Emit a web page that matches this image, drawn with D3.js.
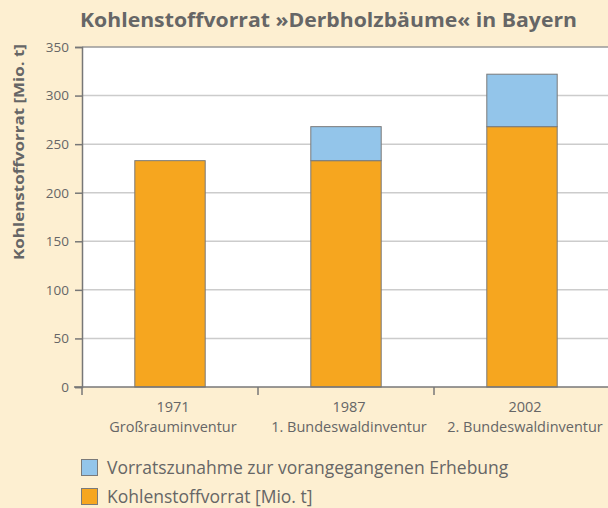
<!DOCTYPE html>
<html>
<head>
<meta charset="utf-8">
<script src="https://cdn.jsdelivr.net/npm/d3@7"></script>
<style>
  body { margin: 0; background: #fdefd1; }
  svg { display: block; font-family: "Open Sans", sans-serif; }
</style>
</head>
<body>
<svg id="chart" width="608" height="508"></svg>
<script>
// chart data
var years = ["1971", "1987", "2002"];
var surveys = ["Großrauminventur", "1. Bundeswaldinventur", "2. Bundeswaldinventur"];
var stock = [233, 233, 268];      // Kohlenstoffvorrat, orange part
var increase = [0, 35, 54];       // Vorratszunahme, blue part
var yTicks = [0, 50, 100, 150, 200, 250, 300, 350];
var legendLabels = ["Vorratszunahme zur vorangegangenen Erhebung", "Kohlenstoffvorrat [Mio. t]"];

// styles
var ORANGE = "#f6a61f";
var BLUE = "#93c5ea";
var TEXT_COLOR = "#666666";
var AXIS_COLOR = "#777777";
var GRID_COLOR = "#cccccc";

var svg = d3.select("#chart");
var margin = { left: 82, right: -2, top: 47, bottom: 121 };
var W = 608, H = 508;

var x = d3.scaleBand()
    .domain(years)
    .range([margin.left, W - margin.right])
    .paddingInner(0.6)
    .paddingOuter(0.3);

var y = d3.scaleLinear()
    .domain([0, 350])
    .range([H - margin.bottom, margin.top]);

// title
svg.append("text")
    .attr("x", 80)
    .attr("y", 27)
    .attr("fill", TEXT_COLOR)
    .attr("font-size", 20)
    .attr("font-weight", "bold")
    .attr("textLength", 497)
    .attr("lengthAdjust", "spacingAndGlyphs")
    .text("Kohlenstoffvorrat »Derbholzbäume« in Bayern");

// plot background
svg.append("rect")
    .attr("x", margin.left)
    .attr("y", y(350))
    .attr("width", W - margin.left)
    .attr("height", y(0) - y(350))
    .attr("fill", "#ffffff");

// grid lines
svg.append("g")
    .selectAll("line")
    .data(yTicks.filter(function(d) { return d > 0 && d < 350; }))
    .enter()
    .append("line")
    .attr("x1", margin.left)
    .attr("x2", W)
    .attr("y1", function(d) { return y(d); })
    .attr("y2", function(d) { return y(d); })
    .attr("stroke", GRID_COLOR)
    .attr("stroke-width", 1.5);

// top border of plot
svg.append("line")
    .attr("x1", margin.left).attr("x2", W)
    .attr("y1", y(350)).attr("y2", y(350))
    .attr("stroke", "#999999")
    .attr("stroke-width", 1.5);

// bars
var bars = svg.append("g");
bars.selectAll(".stock")
    .data(years)
    .enter()
    .append("rect")
    .attr("class", "stock")
    .attr("x", function(d) { return x(d); })
    .attr("width", x.bandwidth())
    .attr("y", function(d, i) { return y(stock[i]); })
    .attr("height", function(d, i) { return y(0) - y(stock[i]); })
    .attr("fill", ORANGE)
    .attr("stroke", "#7a7a7a")
    .attr("stroke-width", 1);

bars.selectAll(".increase")
    .data(years.filter(function(d, i) { return increase[i] > 0; }))
    .enter()
    .append("rect")
    .attr("class", "increase")
    .attr("x", function(d) { return x(d); })
    .attr("width", x.bandwidth())
    .attr("y", function(d) { var i = years.indexOf(d); return y(stock[i] + increase[i]); })
    .attr("height", function(d) { var i = years.indexOf(d); return y(stock[i]) - y(stock[i] + increase[i]); })
    .attr("fill", BLUE)
    .attr("stroke", "#7a7a7a")
    .attr("stroke-width", 1);

// y axis
var yAxis = svg.append("g")
    .attr("transform", "translate(" + margin.left + ",0)")
    .call(d3.axisLeft(y).tickValues(yTicks).tickSize(7).tickPadding(6));
yAxis.select(".domain").attr("stroke", AXIS_COLOR).attr("stroke-width", 1.5);
yAxis.selectAll(".tick line").attr("stroke", AXIS_COLOR).attr("stroke-width", 1.5);
yAxis.selectAll(".tick text")
    .attr("fill", TEXT_COLOR)
    .attr("font-size", 13.5)
    .attr("font-family", "Open Sans, sans-serif");

// x axis: line plus ticks between categories
var step = x.step();
var xBoundaries = years.map(function(d) { return x(d) - x.paddingOuter() * step; });
svg.append("line")
    .attr("x1", margin.left - 8).attr("x2", W)
    .attr("y1", y(0)).attr("y2", y(0))
    .attr("stroke", AXIS_COLOR)
    .attr("stroke-width", 1.5);
svg.append("g")
    .selectAll("line")
    .data(xBoundaries)
    .enter()
    .append("line")
    .attr("x1", function(d) { return d; })
    .attr("x2", function(d) { return d; })
    .attr("y1", y(0))
    .attr("y2", y(0) + 8)
    .attr("stroke", AXIS_COLOR)
    .attr("stroke-width", 1.5);

var xLabels = svg.append("g");
xLabels.selectAll(".year")
    .data(years)
    .enter()
    .append("text")
    .attr("x", function(d) { return x(d) + x.bandwidth() / 2 + 3; })
    .attr("y", 412)
    .attr("text-anchor", "middle")
    .attr("fill", TEXT_COLOR)
    .attr("font-size", 14.5)
    .text(function(d) { return d; });
xLabels.selectAll(".survey")
    .data(years)
    .enter()
    .append("text")
    .attr("x", function(d) { return x(d) + x.bandwidth() / 2 + 3; })
    .attr("y", 432)
    .attr("text-anchor", "middle")
    .attr("fill", TEXT_COLOR)
    .attr("font-size", 14.5)
    .text(function(d, i) { return surveys[i]; });

// y axis title
svg.append("text")
    .attr("transform", "translate(24,152) rotate(-90)")
    .attr("text-anchor", "middle")
    .attr("fill", TEXT_COLOR)
    .attr("font-size", 15)
    .attr("font-weight", "bold")
    .attr("textLength", 216)
    .attr("lengthAdjust", "spacingAndGlyphs")
    .text("Kohlenstoffvorrat [Mio. t]");

// legend
var legendColors = [BLUE, ORANGE];
var legend = svg.append("g")
    .selectAll("g")
    .data(legendLabels)
    .enter()
    .append("g")
    .attr("transform", function(d, i) { return "translate(81," + (459 + i * 29) + ")"; });
legend.append("rect")
    .attr("x", 0.5).attr("y", 0.5)
    .attr("width", 16).attr("height", 16)
    .attr("fill", function(d, i) { return legendColors[i]; })
    .attr("stroke", "#7a7a7a")
    .attr("stroke-width", 1);
legend.append("text")
    .attr("x", 26)
    .attr("y", 15)
    .attr("fill", TEXT_COLOR)
    .attr("font-size", 17.5)
    .text(function(d) { return d; });
</script>
</body>
</html>
